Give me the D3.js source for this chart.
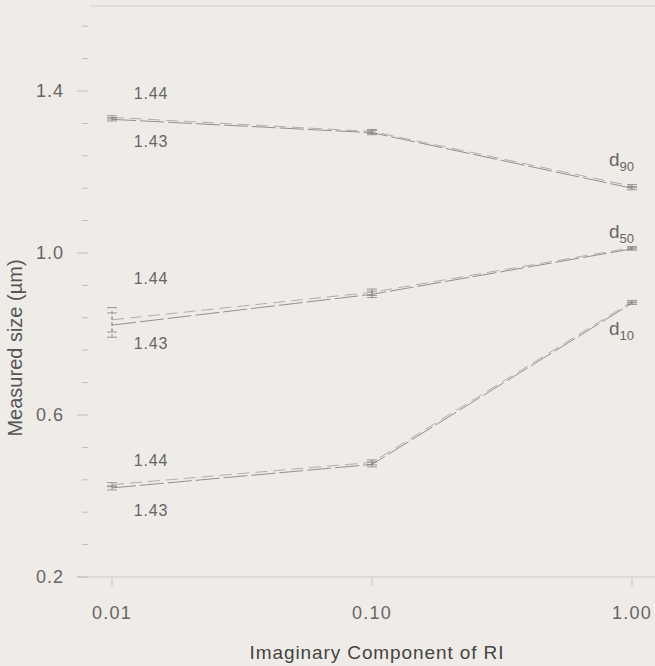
<!DOCTYPE html>
<html>
<head>
<meta charset="utf-8">
<script src="https://cdn.jsdelivr.net/npm/d3@7"></script>
<style>
  html, body { margin: 0; padding: 0; background: #efebe7; }
  svg { display: block; font-family: "Liberation Sans", Arial, sans-serif; }
</style>
</head>
<body>
<svg id="chart" width="655" height="666"></svg>
<script>
// Imaginary component of the refractive index (log axis)
const imagRI = [0.01, 0.10, 1.00];
const xTickLabels = ["0.01", "0.10", "1.00"];
const yTickValues = [0.2, 0.6, 1.0, 1.4];
const yTickLabels = ["0.2", "0.6", "1.0", "1.4"];

// Measured size (µm) per percentile, for real parts 1.44 and 1.43
const d90_144 = [1.335, 1.300, 1.165];
const d90_143 = [1.330, 1.297, 1.160];
const d50_144 = [0.835, 0.903, 1.013];
const d50_143 = [0.822, 0.898, 1.010];
const d10_144 = [0.428, 0.483, 0.880];
const d10_143 = [0.420, 0.478, 0.876];

// Half-widths of the error bars
const d90_err = [0.004, 0.005, 0.004];
const d50_err = [0.030, 0.008, 0.003];
const d10_err = [0.005, 0.006, 0.003];

const realParts = ["1.44", "1.43"];
const percentiles = ["90", "50", "10"];

const svg = d3.select("#chart");
const ink = "#666";

const x = d3.scaleLog().domain([0.01, 1]).range([112, 632]);
const y = d3.scaleLinear().domain([0.2, 1.4]).range([577, 91]);
const yTop = 1.61;

// Faint frame top and bottom axis line
svg.append("line")
  .attr("x1", 90).attr("x2", 655)
  .attr("y1", y(yTop)).attr("y2", y(yTop))
  .attr("stroke", "#dcd8d4").attr("stroke-width", 1.5);
svg.append("line")
  .attr("x1", 77).attr("x2", 655)
  .attr("y1", y(0.2)).attr("y2", y(0.2))
  .attr("stroke", "#ccc8c4").attr("stroke-width", 1.2);

// Y axis: ticks every 0.08, labels every 0.4
const yMinor = d3.range(0, 18).map(i => +(0.2 + i * 0.08).toFixed(2)).filter(v => v <= 1.57);
const yAxis = svg.append("g");
yAxis.selectAll("line.tk").data(yMinor).join("line")
  .attr("class", "tk")
  .attr("x1", v => yTickValues.some(t => Math.abs(t - v) < 1e-6) ? 77 : 82)
  .attr("x2", 88)
  .attr("y1", v => y(v)).attr("y2", v => y(v))
  .attr("stroke", "#c2beba").attr("stroke-width", 1);
yAxis.selectAll("text").data(yTickValues).join("text")
  .attr("x", 64).attr("y", v => y(v))
  .attr("dy", "0.36em")
  .attr("text-anchor", "end")
  .attr("font-size", 18).attr("letter-spacing", 1)
  .attr("fill", ink)
  .text((v, i) => yTickLabels[i]);

// X axis ticks and labels
const xAxis = svg.append("g");
xAxis.selectAll("line").data(imagRI).join("line")
  .attr("x1", v => x(v)).attr("x2", v => x(v))
  .attr("y1", y(0.2) + 1).attr("y2", y(0.2) + 9)
  .attr("stroke", "#cfcbc7").attr("stroke-width", 1.2);
xAxis.selectAll("text").data(imagRI).join("text")
  .attr("x", v => x(v)).attr("y", 613)
  .attr("dy", "0.36em")
  .attr("text-anchor", "middle")
  .attr("font-size", 18).attr("letter-spacing", 1.2)
  .attr("fill", ink)
  .text((v, i) => xTickLabels[i]);

// Axis titles
svg.append("text")
  .attr("x", 377).attr("y", 652)
  .attr("dy", "0.36em")
  .attr("text-anchor", "middle")
  .attr("font-size", 19).attr("letter-spacing", 0.9)
  .attr("fill", "#444")
  .text("Imaginary Component of RI");
svg.append("text")
  .attr("transform", "translate(15,348) rotate(-90)")
  .attr("dy", "0.36em")
  .attr("text-anchor", "middle")
  .attr("font-size", 20)
  .attr("fill", "#555")
  .text("Measured size (µm)");

// Series lines
const series = [
  { p: "90", vals: [d90_144, d90_143], err: d90_err },
  { p: "50", vals: [d50_144, d50_143], err: d50_err },
  { p: "10", vals: [d10_144, d10_143], err: d10_err }
];

const line = d3.line().x(d => x(d[0])).y(d => y(d[1]));
const plot = svg.append("g");

series.forEach(s => {
  s.vals.forEach((vals, k) => {
    const pts = imagRI.map((r, i) => [r, vals[i]]);
    plot.append("path")
      .attr("d", line(pts))
      .attr("fill", "none")
      .attr("stroke", k === 0 ? "#a29e9a" : "#7c7874")
      .attr("stroke-width", 0.8)
      .attr("stroke-dasharray", k === 0 ? "12,6" : "24,4");
    // Error bars
    pts.forEach((pt, i) => {
      const e = s.err[i];
      const cx = x(pt[0]);
      const g = plot.append("g").attr("stroke", "#86827e").attr("stroke-width", 0.8);
      g.append("line").attr("x1", cx).attr("x2", cx)
        .attr("y1", y(pt[1] - e)).attr("y2", y(pt[1] + e))
        .attr("stroke-dasharray", e > 0.01 ? "3,3" : null);
      [pt[1] - e, pt[1] + e].forEach(v => {
        g.append("line").attr("x1", cx - 5).attr("x2", cx + 5)
          .attr("y1", y(v)).attr("y2", y(v));
      });
    });
  });
});

// Real-part labels next to the first points
const labelOffsets = [-24, 22];
series.forEach(s => {
  realParts.forEach((rp, k) => {
    const v = s.vals[k][0];
    const off = s.p === "50" ? (k === 0 ? -42 : 18) : labelOffsets[k];
    plot.append("text")
      .attr("x", 151).attr("y", y(v) + off)
      .attr("dy", "0.36em")
      .attr("text-anchor", "middle")
      .attr("font-size", 16).attr("letter-spacing", 0.8)
      .attr("fill", ink)
      .text(rp);
  });
});

// Percentile labels at the right end
const dLabelOffsets = { "90": -22, "50": -11, "10": 32 };
series.forEach(s => {
  const v = s.vals[1][2];
  const t = plot.append("text")
    .attr("x", 609).attr("y", y(v) + dLabelOffsets[s.p])
    .attr("font-size", 19)
    .attr("fill", ink);
  t.append("tspan").text("d");
  t.append("tspan").attr("dy", 5).attr("font-size", 13).text(s.p);
});
</script>
</body>
</html>
